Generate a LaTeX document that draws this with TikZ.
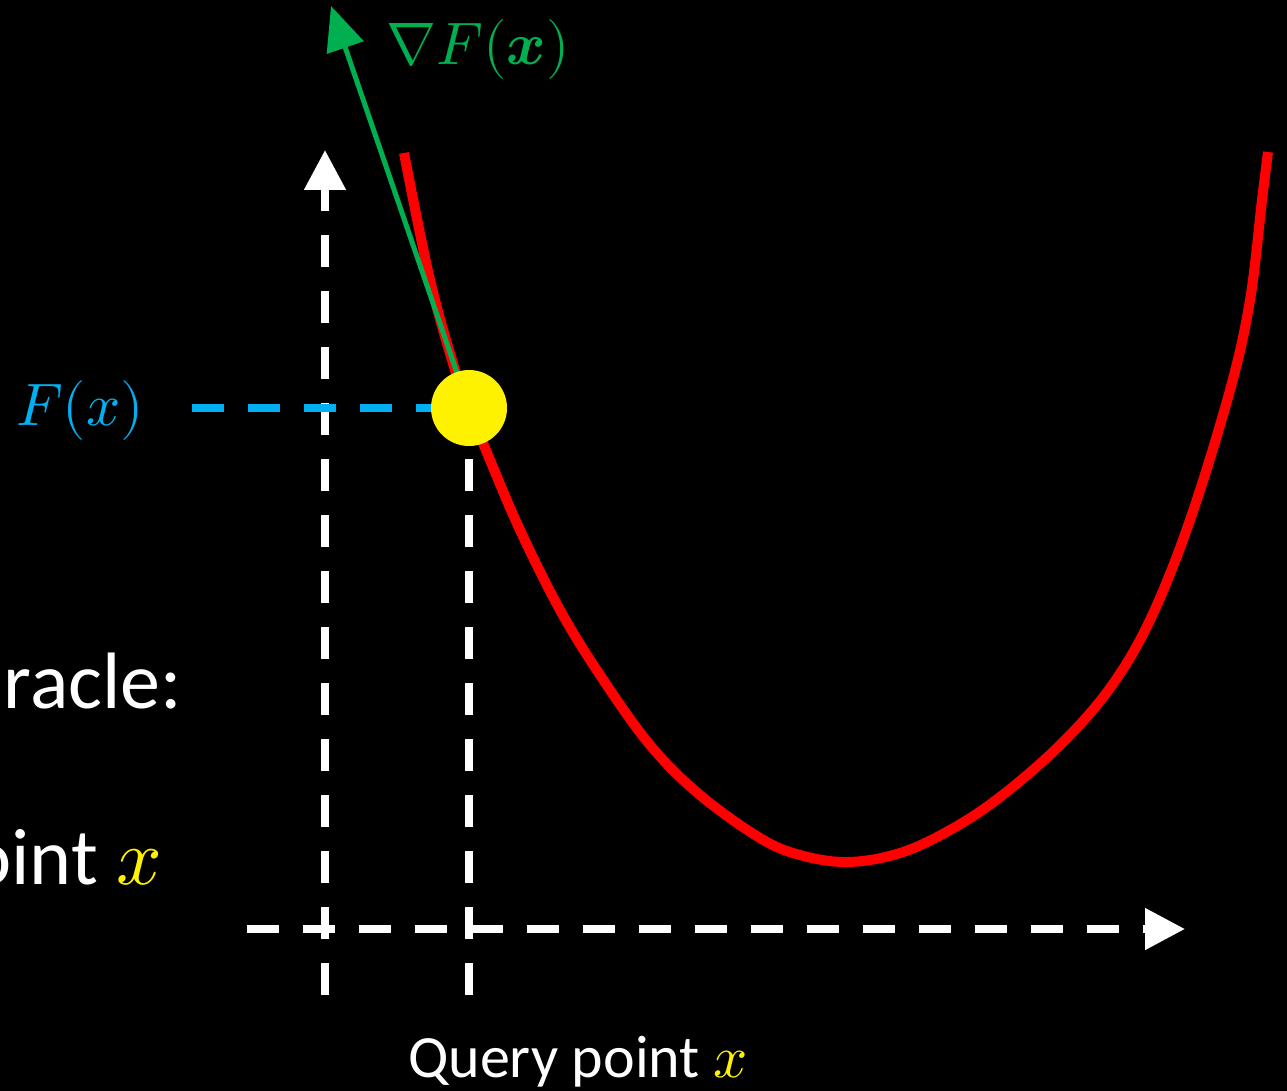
\documentclass[tikz,border=0pt]{standalone}
\usepackage{amsmath}
\usepackage{unicode-math}
\setmainfont{Carlito}
\setmathfont{Latin Modern Math}
\usetikzlibrary{arrows.meta, positioning, calc}
\definecolor{oraclegreen}{HTML}{00B050}
\definecolor{oracleblue}{HTML}{00B0F0}
\tikzstyle{axis}   = [white, line width=8pt, dash pattern=on 32pt off 24pt,
                      -{Triangle[length=40pt,width=40pt]}]
\tikzstyle{guide}  = [white, line width=8pt, dash pattern=on 32pt off 24pt]
\tikzstyle{level}  = [oracleblue, line width=8pt, dash pattern=on 32pt off 24pt]
\tikzstyle{grad}   = [oraclegreen, line width=5pt, -{Triangle[length=44pt,width=38pt]}]
\tikzstyle{qpoint} = [circle, fill=yellow, minimum size=76pt, inner sep=0pt]
\tikzstyle{bigtext}= [white, font=\fontsize{80}{96}\selectfont, inner sep=0pt]
\tikzstyle{mathlabel}= [font=\fontsize{60}{72}\selectfont, inner sep=0pt]

\begin{document}
\begin{tikzpicture}[x=1pt, y=-1pt]

  % Background
  \fill[black] (0,0) rectangle (1287,1091);
  \useasboundingbox (0,0) rectangle (1287,1091);

  % Cropped slide text
  \node (oracle) [bigtext, anchor=base east] at (182,708) {racle:};
  \node (point)  [bigtext, anchor=base east] at (162,884) {oint \textcolor{yellow}{$x$}};

  % Axes
  \coordinate (ybot) at (325,995);
  \coordinate (ytop) at (325,150);
  \coordinate (xleft) at (247,929);
  \coordinate (xright) at (1185,929);
  \coordinate (qx) at (469,408);
  \coordinate (qbot) at (469,995);
  \draw[axis] (ybot) -- (ytop);
  \draw[axis] (xleft) -- (xright);
  \draw[guide] (qbot) -- (qx);

  % Function value
  \node (fx) [oracleblue, mathlabel] at (80,410) {$F(x)$};
  \coordinate (lstart) at (192,408);
  \draw[level] (lstart) -- (qx);

  % Curve
  \draw[red, line width=10pt] plot[smooth, tension=0.6] coordinates {
    (404,153) (430,280) (455,370) (469,408) (490,460) (520,530) (560,610)
    (600,675) (650,745) (700,795) (760,838) (800,855) (848,862) (900,853)
    (950,830) (1000,797) (1060,745) (1110,688) (1150,620) (1190,520)
    (1230,390) (1250,300) (1262,200) (1268,152)};

  % Gradient
  \coordinate (gtip) at (331,6);
  \draw[grad] (qx) -- (gtip);
  \node (gradlabel) [oraclegreen, mathlabel] at (478,50) {$\nabla F(\symbfit{x})$};

  % Query point
  \node (query) [qpoint] at (qx) {};
  \node (qlabel) [white, font=\fontsize{60}{72}\selectfont, inner sep=0pt, anchor=base]
       at (578,1077) {Query point \textcolor{yellow}{$x$}};

\end{tikzpicture}
\end{document}
